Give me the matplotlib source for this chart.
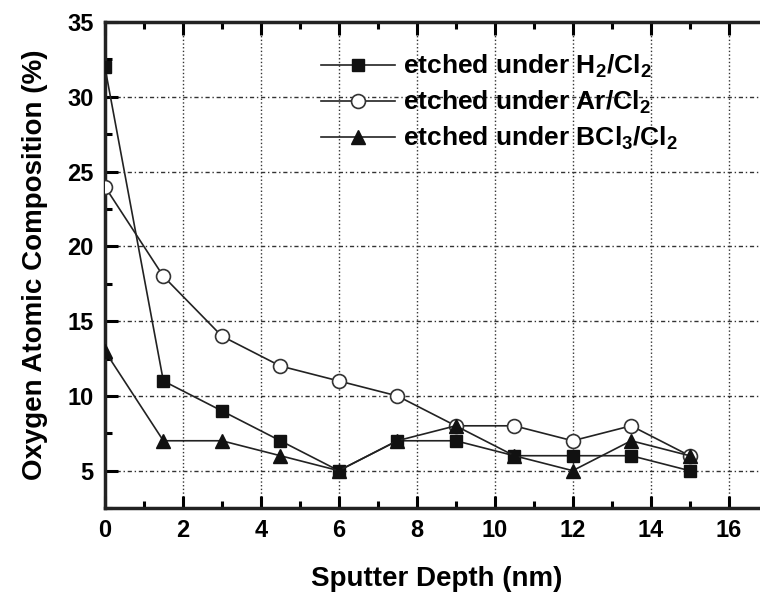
import matplotlib
matplotlib.use("Agg")
import matplotlib.pyplot as plt
from matplotlib.ticker import MultipleLocator

plt.rcParams['font.family'] = ['Liberation Sans', 'DejaVu Sans']
plt.rcParams['font.weight'] = 'bold'
plt.rcParams['mathtext.fontset'] = 'custom'
plt.rcParams['mathtext.rm'] = 'Liberation Sans:bold'
plt.rcParams['mathtext.bf'] = 'Liberation Sans:bold'
plt.rcParams['mathtext.default'] = 'rm'

# data
depth = [0, 1.5, 3, 4.5, 6, 7.5, 9, 10.5, 12, 13.5, 15]
h2_cl2 = [32, 11, 9, 7, 5, 7, 7, 6, 6, 6, 5]
ar_cl2 = [24, 18, 14, 12, 11, 10, 8, 8, 7, 8, 6]
bcl3_cl2 = [13, 7, 7, 6, 5, 7, 8, 6, 5, 7, 6]
labels = [r'etched under H$_2$/Cl$_2$', r'etched under Ar/Cl$_2$',
          r'etched under BCl$_3$/Cl$_2$']

fig = plt.figure(figsize=(7.6, 5.97), dpi=100)
ax = fig.add_axes([0.138, 0.149, 0.872, 0.814])

ax.plot(depth, h2_cl2, color='#222222', lw=1.2, marker='s', ms=9,
        mfc='#111111', mec='#111111', label=labels[0], zorder=3)
ax.plot(depth, ar_cl2, color='#222222', lw=1.2, marker='o', ms=10,
        mfc='white', mec='#333333', mew=1.2, label=labels[1], zorder=3)
ax.plot(depth, bcl3_cl2, color='#222222', lw=1.2, marker='^', ms=10,
        mfc='#111111', mec='#111111', label=labels[2], zorder=4)

ax.set_xlim(0, 17)
ax.set_ylim(2.5, 35)
ax.xaxis.set_major_locator(MultipleLocator(2))
ax.xaxis.set_minor_locator(MultipleLocator(1))
ax.yaxis.set_major_locator(MultipleLocator(5))
ax.yaxis.set_minor_locator(MultipleLocator(2.5))
ax.set_yticks([5, 10, 15, 20, 25, 30, 35])

ax.xaxis.grid(True, which='major', linestyle=':', color='#333333', lw=1)
ax.yaxis.grid(True, which='major', linestyle=(0, (3, 2, 1, 2)), color='#333333', lw=1)
ax.set_axisbelow(True)

ax.tick_params(which='both', direction='in', top=True, right=False,
               width=2.2, labelsize=17, pad=8)
ax.tick_params(which='major', length=9)
ax.tick_params(which='minor', length=5)
for sp in ax.spines.values():
    sp.set_linewidth(2.5)
    sp.set_color('#222222')

ax.set_xlabel('Sputter Depth (nm)', fontsize=20, fontweight='bold', labelpad=17)
ax.set_ylabel('Oxygen Atomic Composition (%)', fontsize=20, fontweight='bold', labelpad=14)

leg = ax.legend(loc='upper left', bbox_to_anchor=(0.31, 0.958), frameon=False,
                borderaxespad=0, fontsize=19, handlelength=2.8,
                labelspacing=0.33, handletextpad=0.3)

fig.savefig('out.png', dpi=100)
